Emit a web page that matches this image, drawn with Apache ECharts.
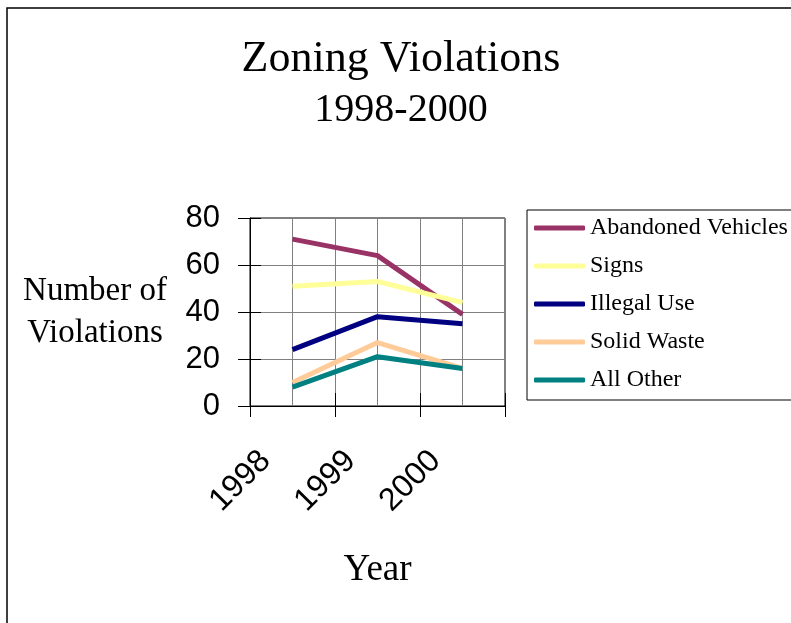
<!DOCTYPE html>
<html>
<head>
<meta charset="utf-8">
<script src="https://cdn.jsdelivr.net/npm/echarts@6/dist/echarts.min.js"></script>
<style>
  html, body { margin: 0; padding: 0; background: #fff; }
  #chart { width: 791px; height: 623px; }
</style>
</head>
<body>
<div id="chart"></div>
<script>
// data
var years = ['1998', '1999', '2000'];
var seriesNames = ['Abandoned Vehicles', 'Signs', 'Illegal Use', 'Solid Waste', 'All Other'];
var abandonedVehicles = [71, 64, 39];
var signs = [51, 53, 44];
var illegalUse = [24, 38, 35];
var solidWaste = [10, 27, 16];
var allOther = [8, 21, 16];
var colors = ['#993366', '#ffff99', '#000080', '#ffcc99', '#008080'];

var serif = '"Liberation Serif", "Times New Roman", serif';
var sans = '"Liberation Sans", Arial, sans-serif';

var chart = echarts.init(document.getElementById('chart'));

var values = [abandonedVehicles, signs, illegalUse, solidWaste, allOther];
var series = [];
for (var i = 0; i < seriesNames.length; i++) {
    series.push({
        name: seriesNames[i],
        type: 'line',
        xAxisIndex: 0,
        yAxisIndex: 0,
        data: values[i],
        symbol: 'none',
        color: colors[i],
        lineStyle: { width: 5, color: colors[i] }
    });
}

var option = {
    animation: false,
    backgroundColor: '#fff',
    title: [
        {
            text: 'Zoning Violations',
            left: 396, top: 32, textAlign: 'center',
            textStyle: { fontFamily: serif, fontSize: 44, fontWeight: 'normal', color: '#000' }
        },
        {
            text: '1998-2000',
            left: 396, top: 85, textAlign: 'center',
            textStyle: { fontFamily: serif, fontSize: 40, fontWeight: 'normal', color: '#000' }
        }
    ],
    graphic: [
        {
            type: 'rect',
            shape: { x: 7, y: 8, width: 900, height: 800 },
            style: { fill: 'none', stroke: '#000', lineWidth: 1.5 },
            silent: true
        }
    ],
    legend: {
        orient: 'vertical',
        left: 527, top: 210,
        padding: [6, 4, 8, 7],
        icon: 'roundRect',
        itemWidth: 51,
        itemHeight: 5,
        itemGap: 14,
        borderColor: '#000',
        borderWidth: 1,
        data: seriesNames,
        textStyle: { fontFamily: serif, fontSize: 24, lineHeight: 23, color: '#000' }
    },
    grid: {
        left: 250, top: 218, right: 286, bottom: 217,
        show: true, borderColor: '#000', borderWidth: 1
    },
    xAxis: [
        {
            type: 'category',
            data: years,
            position: 'bottom',
            boundaryGap: true,
            name: 'Year',
            nameLocation: 'middle',
            nameGap: 146,
            nameTextStyle: { fontFamily: serif, fontSize: 37, color: '#000' },
            axisLine: { lineStyle: { color: '#000', width: 1 } },
            axisTick: { show: true, inside: false, length: 11, lineStyle: { color: '#000' } },
            axisLabel: {
                rotate: 45, margin: 23, padding: [0, 38, 0, 0],
                fontFamily: sans, fontSize: 32, color: '#000'
            },
            splitLine: { show: true, lineStyle: { color: '#808080', width: 1 } }
        },
        {
            type: 'category',
            data: years,
            position: 'bottom',
            axisLine: { show: false },
            axisTick: { show: true, inside: true, length: 13, lineStyle: { color: '#000' } },
            axisLabel: { show: false },
            splitLine: { show: false }
        },
        {
            type: 'value',
            position: 'bottom',
            min: 0, max: 6, interval: 1,
            axisLine: { show: false },
            axisTick: { show: false },
            axisLabel: { show: false },
            splitLine: { show: true, lineStyle: { color: '#808080', width: 1 } }
        }
    ],
    yAxis: [
        {
            type: 'value',
            position: 'left',
            min: 0, max: 80, interval: 20,
            name: 'Number of\nViolations',
            nameLocation: 'middle',
            nameRotate: 0,
            nameGap: 155,
            nameTextStyle: { fontFamily: serif, fontSize: 33, lineHeight: 42, align: 'center', color: '#000' },
            axisLine: { show: true, lineStyle: { color: '#000', width: 1 } },
            axisTick: { show: true, inside: false, length: 12, lineStyle: { color: '#000' } },
            axisLabel: { margin: 30, fontFamily: sans, fontSize: 31, color: '#000' },
            splitLine: { show: true, lineStyle: { color: '#808080', width: 1 } }
        },
        {
            type: 'value',
            position: 'left',
            min: 0, max: 80, interval: 20,
            axisLine: { show: false },
            axisTick: { show: true, inside: true, length: 11, lineStyle: { color: '#000' } },
            axisLabel: { show: false },
            splitLine: { show: false }
        }
    ],
    series: series
};

chart.setOption(option);
</script>
</body>
</html>
